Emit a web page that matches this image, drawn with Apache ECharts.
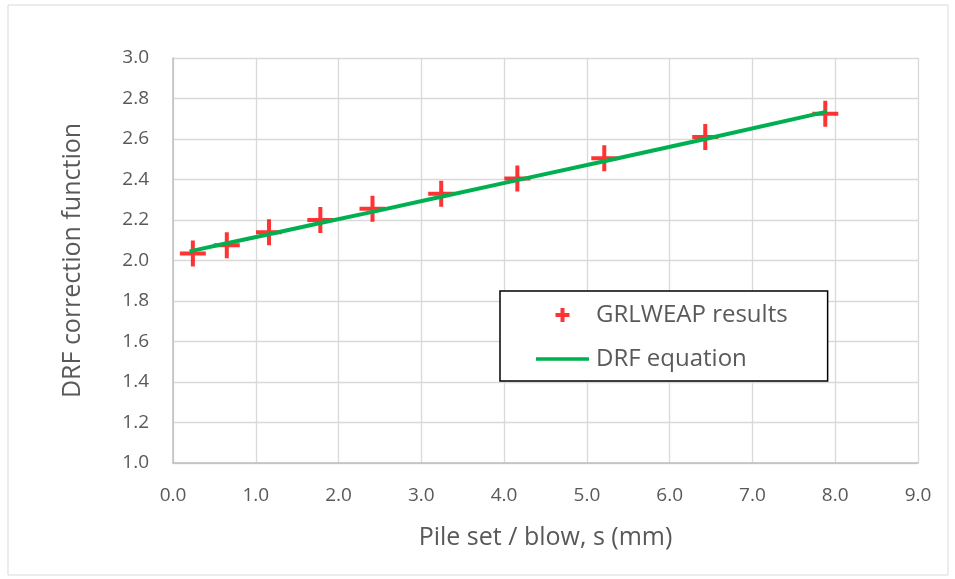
<!DOCTYPE html>
<html>
<head>
<meta charset="utf-8">
<script src="https://cdn.jsdelivr.net/npm/echarts@6/dist/echarts.min.js"></script>
<style>
  html, body { margin: 0; padding: 0; background: #fff; }
  #chart { width: 955px; height: 579px; }
</style>
</head>
<body>
<div id="chart"></div>
<script>
// GRLWEAP points
var setX = [0.24, 0.65, 1.16, 1.78, 2.41, 3.24, 4.16, 5.21, 6.43, 7.88];
var grlweapY = [2.035, 2.075, 2.14, 2.20, 2.255, 2.33, 2.405, 2.505, 2.61, 2.725];
// DRF equation line
var eqX = [0.2, 0.65, 1.16, 1.78, 2.41, 3.24, 4.16, 5.21, 6.43, 7.9];
var eqY = [2.045, 2.085, 2.13, 2.185, 2.24, 2.315, 2.397, 2.49, 2.60, 2.735];
var xTicks = ['0.0', '1.0', '2.0', '3.0', '4.0', '5.0', '6.0', '7.0', '8.0', '9.0'];

var font = "'Liberation Sans Narrow', 'Open Sans', sans-serif";
var plusPath = 'path://M11,0h4v11h11v4h-11v11h-4v-11h-11v-4h11z';
// bolder plus for the legend
var legendPlus = 'path://M5,0h4v5h5v4h-5v5h-4v-5h-5v-4h5z';
// flat bar with invisible corner points so the legend box keeps it thin
var barPath = 'path://M0,0L0.01,0M0,5.2h53v3.6h-53zM53,14L52.99,14';

var myChart = echarts.init(document.getElementById('chart'));
myChart.setOption({
  animation: false,
  textStyle: { fontFamily: font },
  graphic: [{
    type: 'rect',
    shape: { x: 8, y: 5, width: 940, height: 570 },
    style: { fill: 'none', stroke: '#d9d9d9', lineWidth: 1 }
  }],
  grid: { left: 173, right: 37, top: 58, bottom: 116 },
  legend: {
    orient: 'vertical',
    left: 500,
    top: 291,
    padding: [12, 40, 10, 36],
    itemGap: 20,
    itemWidth: 53,
    itemHeight: 14,
    borderColor: '#000',
    borderWidth: 1.5,
    backgroundColor: '#fff',
    textStyle: { fontSize: 24, color: '#595959', fontFamily: font, padding: [0, 0, 0, 2] },
    data: [
      { name: 'GRLWEAP results', icon: legendPlus },
      { name: 'DRF equation', icon: barPath }
    ]
  },
  xAxis: {
    type: 'value',
    min: 0,
    max: 9,
    interval: 1,
    name: 'Pile set / blow, s (mm)',
    nameLocation: 'middle',
    nameGap: 62,
    nameTextStyle: { fontSize: 25, color: '#595959' },
    axisLine: { show: true, lineStyle: { color: '#bfbfbf', width: 1.5 } },
    axisTick: { show: false },
    splitLine: { lineStyle: { color: '#d9d9d9', width: 1.3 } },
    axisLabel: {
      fontSize: 19, color: '#595959', margin: 23,
      formatter: function (v) { return xTicks[Math.round(v)]; }
    }
  },
  yAxis: {
    type: 'value',
    min: 1.0,
    max: 3.0,
    interval: 0.2,
    name: 'DRF correction function',
    nameLocation: 'middle',
    nameGap: 88,
    nameTextStyle: { fontSize: 25, color: '#595959' },
    axisLine: { show: true, lineStyle: { color: '#bfbfbf', width: 1.5 } },
    axisTick: { show: false },
    splitLine: { lineStyle: { color: '#d9d9d9', width: 1.3 } },
    axisLabel: {
      fontSize: 19, color: '#595959', margin: 24,
      formatter: function (v) { return v.toFixed(1); }
    }
  },
  series: [
    {
      name: 'GRLWEAP results',
      type: 'scatter',
      symbol: plusPath,
      symbolSize: 26,
      itemStyle: { color: '#ff0000' },
      data: setX.map(function (x, i) { return [x, grlweapY[i]]; }),
      z: 2
    },
    {
      name: 'DRF equation',
      type: 'line',
      showSymbol: false,
      symbol: 'none',
      lineStyle: { color: '#00b050', width: 4 },
      itemStyle: { color: '#00b050' },
      data: eqX.map(function (x, i) { return [x, eqY[i]]; }),
      z: 3
    }
  ]
});
</script>
</body>
</html>
